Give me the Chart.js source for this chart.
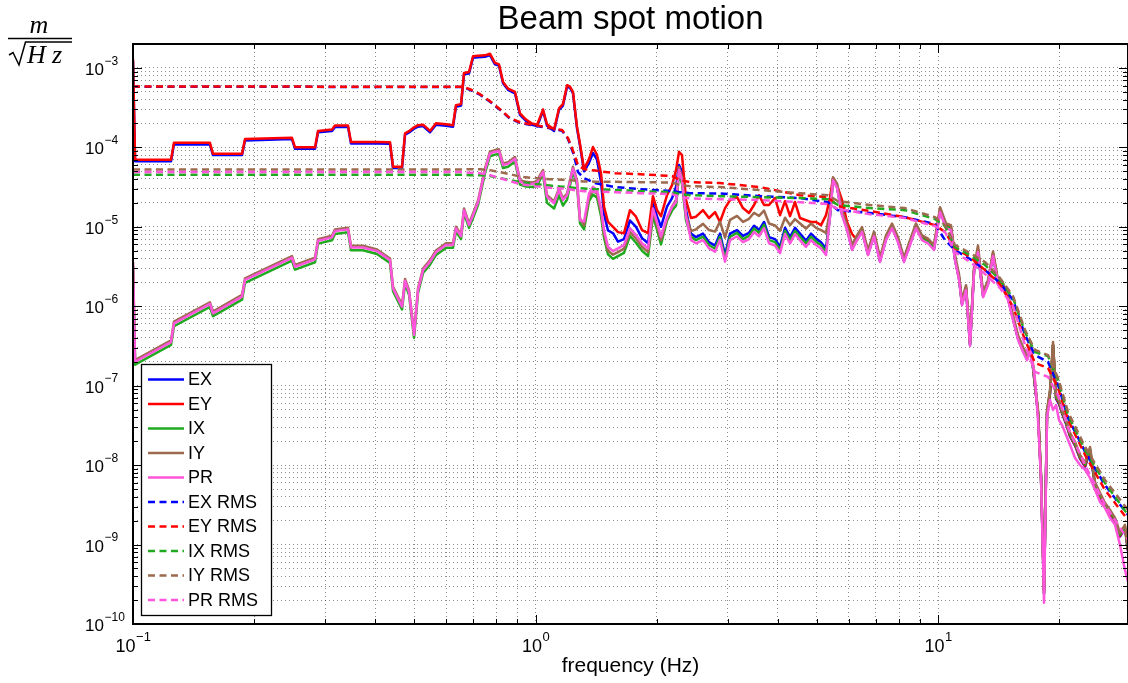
<!DOCTYPE html>
<html>
<head>
<meta charset="utf-8">
<script src="https://cdn.jsdelivr.net/npm/chart.js@4.4.0/dist/chart.umd.min.js"></script>
<style>
  html, body { margin: 0; padding: 0; background: #fff; }
  canvas { display: block; }
</style>
</head>
<body>
<canvas id="myChart" width="1128" height="683"></canvas>
<script>
// frequency bins (Hz) of the amplitude spectra
const freq = [
  0.1, 0.1012, 0.1243, 0.1264, 0.1553, 0.158, 0.1866, 0.1898, 0.2483, 0.2527,
  0.2833, 0.2882, 0.3122, 0.3176, 0.3421, 0.348, 0.3726, 0.4038, 0.435, 0.4426,
  0.466, 0.4741, 0.4851, 0.4992, 0.5107, 0.5255, 0.5469, 0.566, 0.5993, 0.6237,
  0.6345, 0.653, 0.6643, 0.6837, 0.6995, 0.7198, 0.7493, 0.7706, 0.793, 0.8114,
  0.8305, 0.8545, 0.8893, 0.9152, 0.9471, 0.9802, 1.009, 1.026, 1.044, 1.068,
  1.112, 1.144, 1.17, 1.198, 1.218, 1.239, 1.268, 1.29, 1.32, 1.358,
  1.389, 1.422, 1.455, 1.48, 1.514, 1.558, 1.603, 1.659, 1.717, 1.777,
  1.839, 1.904, 1.958, 2.004, 2.05, 2.122, 2.184, 2.235, 2.273, 2.312,
  2.366, 2.434, 2.505, 2.607, 2.698, 2.793, 2.873, 2.957, 3.043, 3.167,
  3.277, 3.392, 3.491, 3.592, 3.697, 3.804, 3.936, 4.051, 4.168, 4.289,
  4.413, 4.541, 4.699, 4.836, 4.977, 5.121, 5.27, 5.392, 5.485, 5.612,
  5.775, 5.942, 6.115, 6.292, 6.474, 6.701, 6.934, 7.176, 7.427, 7.687,
  7.954, 8.232, 8.52, 8.816, 9.125, 9.445, 9.774, 10.12, 10.47, 10.77,
  11.02, 11.28, 11.47, 11.74, 12.01, 12.29, 12.57, 12.94, 13.31, 13.7,
  14.1, 14.51, 14.93, 15.36, 15.81, 16.27, 16.64, 17.02, 17.42, 17.72,
  18.03, 18.34, 18.66, 18.98, 19.31, 19.65, 19.98, 20.33, 20.8, 21.28,
  21.9, 22.54, 23.2, 23.86, 24.55, 25.26, 25.99, 26.75, 27.53, 28.32,
  29.14, 29.65
];

// beam spot motion spectra, m/sqrt(Hz)
const EX = [
  1.23e-3, 6.7e-5, 6.7e-5, 1.09e-4, 1.09e-4, 8.0e-5, 8.0e-5, 1.22e-4, 1.27e-4, 9.6e-5,
  9.6e-5, 1.55e-4, 1.61e-4, 1.81e-4, 1.81e-4, 1.12e-4, 1.12e-4, 1.12e-4, 1.11e-4, 5.5e-5,
  5.5e-5, 1.44e-4, 1.54e-4, 1.72e-4, 1.82e-4, 1.85e-4, 1.55e-4, 1.93e-4, 1.87e-4, 1.82e-4,
  3.25e-4, 3.36e-4, 8.3e-4, 8.5e-4, 1.34e-3, 1.36e-3, 1.38e-3, 1.45e-3, 1.11e-3, 1.07e-3,
  6.4e-4, 5.3e-4, 4.78e-4, 2.56e-4, 2.15e-4, 1.92e-4, 1.85e-4, 2.28e-4, 2.88e-4, 1.87e-4,
  1.61e-4, 2.97e-4, 3.36e-4, 5.8e-4, 5.6e-4, 4.8e-4, 1.74e-4, 1.05e-4, 5.0e-5, 6.4e-5,
  8.5e-5, 7.0e-5, 3.6e-5, 1.45e-5, 9.0e-6, 8.3e-6, 6.5e-6, 7.0e-6, 1.2e-5, 1.0e-5,
  7.2e-6, 6.2e-6, 2.0e-5, 1.35e-5, 1.0e-5, 1.8e-5, 2.3e-5, 3.2e-5, 6.0e-5, 5.0e-5,
  1.6e-5, 8.2e-6, 7.4e-6, 8.2e-6, 6.4e-6, 5.8e-6, 8.2e-6, 4.4e-6, 8.2e-6, 9.1e-6,
  7.7e-6, 8.4e-6, 1.03e-5, 9.1e-6, 1.15e-5, 7.4e-6, 7.0e-6, 5.6e-6, 9.7e-6, 7.4e-6,
  9.7e-6, 8.2e-6, 6.7e-6, 8.2e-6, 7.1e-6, 6.4e-6, 5.3e-6, 1.38e-5, 3.98e-5, 3.16e-5,
  1.44e-5, 9.4e-6, 5.25e-6, 7.0e-6, 8.9e-6, 4.5e-6, 7.8e-6, 3.7e-6, 7.0e-6, 9.9e-6,
  6.6e-6, 3.7e-6, 6.1e-6, 9.9e-6, 7.0e-6, 6.4e-6, 5.25e-6, 1.58e-5, 9.9e-6, 9.4e-6,
  3.9e-6, 2.2e-6, 1.06e-6, 1.65e-6, 3.25e-7, 2.78e-6, 4.9e-6, 1.34e-6, 1.9e-6, 4.4e-6,
  1.9e-6, 1.74e-6, 1.24e-6, 6.9e-7, 3.87e-7, 2.73e-7, 2.16e-7, 2.9e-7, 9.7e-8, 4.5e-8,
  6.8e-9, 2.4e-10, 4.5e-8, 7.9e-8, 3.2e-7, 6.8e-8, 5.9e-8, 4.5e-8, 3.3e-8, 2.3e-8,
  1.76e-8, 1.2e-8, 9.6e-9, 1.52e-8, 5.5e-9, 4.0e-9, 3.0e-9, 2.46e-9, 1.95e-9, 1.26e-9,
  1.6e-9, 8.2e-10
];
const EY = [
  1.28e-3, 7.0e-5, 7.0e-5, 1.14e-4, 1.14e-4, 8.3e-5, 8.3e-5, 1.27e-4, 1.32e-4, 1.0e-4,
  1.0e-4, 1.61e-4, 1.68e-4, 1.89e-4, 1.89e-4, 1.17e-4, 1.17e-4, 1.17e-4, 1.16e-4, 5.7e-5,
  5.7e-5, 1.5e-4, 1.6e-4, 1.79e-4, 1.9e-4, 1.93e-4, 1.61e-4, 2.01e-4, 1.95e-4, 1.9e-4,
  3.39e-4, 3.5e-4, 8.65e-4, 8.9e-4, 1.4e-3, 1.42e-3, 1.44e-3, 1.51e-3, 1.16e-3, 1.11e-3,
  6.67e-4, 5.5e-4, 4.98e-4, 2.67e-4, 2.24e-4, 2.0e-4, 1.93e-4, 2.38e-4, 3.0e-4, 1.95e-4,
  1.68e-4, 3.09e-4, 3.5e-4, 6.06e-4, 5.8e-4, 5.0e-4, 1.81e-4, 1.1e-4, 5.32e-5, 7.1e-5,
  1.01e-4, 8.0e-5, 4.7e-5, 1.78e-5, 1.15e-5, 1.0e-5, 8.57e-6, 8.27e-6, 1.62e-5, 1.34e-5,
  9.1e-6, 8.3e-6, 2.43e-5, 1.62e-5, 1.36e-5, 2.5e-5, 3.35e-5, 5.2e-5, 8.8e-5, 8.0e-5,
  2.17e-5, 1.29e-5, 1.34e-5, 1.62e-5, 1.29e-5, 1.53e-5, 1.15e-5, 1.72e-5, 2.17e-5, 2.36e-5,
  1.72e-5, 1.49e-5, 1.88e-5, 2.5e-5, 1.88e-5, 1.88e-5, 2.3e-5, 1.4e-5, 2.1e-5, 1.36e-5,
  2.05e-5, 1.29e-5, 1.21e-5, 1.15e-5, 1.15e-5, 1.05e-5, 1.4e-5, 2.36e-5, 4.1e-5, 3.35e-5,
  2.17e-5, 1.15e-5, 8.1e-6, 6.8e-6, 9.3e-6, 4.75e-6, 8.2e-6, 3.9e-6, 7.3e-6, 1.04e-5,
  6.9e-6, 3.9e-6, 6.4e-6, 1.04e-5, 7.3e-6, 6.7e-6, 5.5e-6, 1.65e-5, 1.04e-5, 9.8e-6,
  4.1e-6, 2.3e-6, 1.11e-6, 1.73e-6, 3.4e-7, 2.9e-6, 5.2e-6, 1.4e-6, 2.0e-6, 4.6e-6,
  2.0e-6, 1.83e-6, 1.3e-6, 7.2e-7, 4.1e-7, 2.9e-7, 2.27e-7, 3.0e-7, 9.9e-8, 4.55e-8,
  6.9e-9, 2.5e-10, 4.55e-8, 8.1e-8, 3.27e-7, 7.0e-8, 6.1e-8, 4.55e-8, 3.4e-8, 2.34e-8,
  1.8e-8, 1.23e-8, 9.8e-9, 1.55e-8, 5.6e-9, 4.1e-9, 3.08e-9, 2.5e-9, 2.0e-9, 1.29e-9,
  1.63e-9, 8.4e-10
];
const IX = [
  3.2e-6, 1.84e-7, 3.26e-7, 5.6e-7, 9.8e-7, 7.5e-7, 1.21e-6, 1.97e-6, 3.74e-6, 2.89e-6,
  3.58e-6, 6.14e-6, 6.77e-6, 8.12e-6, 8.54e-6, 5.06e-6, 5.06e-6, 4.54e-6, 3.5e-6, 1.55e-6,
  9.1e-7, 1.93e-6, 1.39e-6, 4.0e-7, 1.47e-6, 2.62e-6, 3.34e-6, 4.42e-6, 5.43e-6, 5.43e-6,
  8.8e-6, 7.0e-6, 1.49e-5, 9.7e-6, 1.29e-5, 1.88e-5, 4.76e-5, 7.73e-5, 8.1e-5, 8.28e-5,
  5.49e-5, 5.7e-5, 6.62e-5, 3.39e-5, 3.22e-5, 3.17e-5, 3.27e-5, 3.92e-5, 4.53e-5, 2.0e-5,
  1.7e-5, 2.5e-5, 1.85e-5, 2.2e-5, 3.3e-5, 5.0e-5, 3.36e-5, 1.11e-5, 9.3e-6, 2.1e-5,
  2.55e-5, 2.32e-5, 1.36e-5, 7.3e-6, 4.5e-6, 3.95e-6, 4.27e-6, 4.7e-6, 7.7e-6, 6.3e-6,
  5.0e-6, 4.27e-6, 1.36e-5, 9.2e-6, 6.0e-6, 1.19e-5, 1.6e-5, 1.85e-5, 4.65e-5, 3.47e-5,
  1.2e-5, 7.5e-6, 6.8e-6, 7.5e-6, 5.9e-6, 5.3e-6, 7.5e-6, 4.0e-6, 7.5e-6, 8.4e-6,
  7.0e-6, 7.7e-6, 9.5e-6, 8.4e-6, 1.06e-5, 6.8e-6, 6.4e-6, 5.1e-6, 8.9e-6, 6.8e-6,
  8.9e-6, 7.5e-6, 6.2e-6, 7.5e-6, 6.5e-6, 5.9e-6, 4.8e-6, 1.41e-5, 4.05e-5, 3.22e-5,
  1.47e-5, 9.6e-6, 5.4e-6, 7.1e-6, 9.0e-6, 4.6e-6, 8.0e-6, 3.8e-6, 7.1e-6, 1.01e-5,
  6.7e-6, 3.8e-6, 6.2e-6, 1.01e-5, 7.1e-6, 6.5e-6, 5.4e-6, 1.61e-5, 1.01e-5, 9.6e-6,
  4.0e-6, 2.25e-6, 1.08e-6, 1.68e-6, 3.3e-7, 2.84e-6, 5.0e-6, 1.37e-6, 1.94e-6, 4.5e-6,
  1.94e-6, 1.77e-6, 1.26e-6, 7.0e-7, 3.95e-7, 2.78e-7, 2.2e-7, 2.95e-7, 1.03e-7, 4.7e-8,
  7.0e-9, 2.4e-10, 4.7e-8, 8.4e-8, 3.3e-7, 7.2e-8, 6.3e-8, 4.7e-8, 3.5e-8, 2.4e-8,
  1.86e-8, 1.27e-8, 1.02e-8, 1.6e-8, 5.8e-9, 4.25e-9, 3.2e-9, 2.6e-9, 2.06e-9, 1.33e-9,
  1.68e-9, 8.6e-10
];
const IY = [
  3.64e-6, 2.1e-7, 3.72e-7, 6.4e-7, 1.12e-6, 8.56e-7, 1.39e-6, 2.25e-6, 4.27e-6, 3.3e-6,
  4.08e-6, 7.0e-6, 7.73e-6, 9.27e-6, 9.74e-6, 5.78e-6, 5.78e-6, 5.19e-6, 4.0e-6, 1.76e-6,
  1.04e-6, 2.2e-6, 1.59e-6, 4.57e-7, 1.68e-6, 2.99e-6, 3.81e-6, 5.04e-6, 6.2e-6, 6.2e-6,
  1.0e-5, 7.98e-6, 1.7e-5, 1.1e-5, 1.47e-5, 2.14e-5, 5.43e-5, 8.82e-5, 9.24e-5, 9.45e-5,
  6.27e-5, 6.51e-5, 7.56e-5, 3.86e-5, 3.68e-5, 3.62e-5, 3.73e-5, 4.47e-5, 5.17e-5, 2.5e-5,
  2.08e-5, 3.05e-5, 2.28e-5, 2.63e-5, 3.86e-5, 5.7e-5, 3.83e-5, 1.27e-5, 1.04e-5, 2.37e-5,
  2.87e-5, 2.61e-5, 1.53e-5, 8.2e-6, 5.0e-6, 4.45e-6, 4.8e-6, 5.3e-6, 8.6e-6, 7.1e-6,
  5.6e-6, 4.8e-6, 1.53e-5, 1.04e-5, 6.8e-6, 1.25e-5, 1.8e-5, 2.2e-5, 5.6e-5, 4.2e-5,
  1.4e-5, 8.8e-6, 9.3e-6, 1.09e-5, 9.1e-6, 8.7e-6, 1.16e-5, 7.3e-6, 1.22e-5, 1.37e-5,
  1.15e-5, 1.26e-5, 1.5e-5, 1.37e-5, 1.6e-5, 1.1e-5, 1.04e-5, 8.9e-6, 1.3e-5, 1.05e-5,
  1.25e-5, 1.1e-5, 9.5e-6, 1.1e-5, 9.7e-6, 9.1e-6, 8.4e-6, 1.6e-5, 4.2e-5, 3.5e-5,
  1.61e-5, 1.05e-5, 5.9e-6, 7.8e-6, 9.9e-6, 5.1e-6, 8.7e-6, 4.1e-6, 7.8e-6, 1.1e-5,
  7.4e-6, 4.1e-6, 6.8e-6, 1.1e-5, 7.8e-6, 7.1e-6, 5.9e-6, 1.76e-5, 1.1e-5, 1.05e-5,
  4.4e-6, 2.5e-6, 1.2e-6, 1.84e-6, 3.7e-7, 3.1e-6, 5.8e-6, 1.5e-6, 2.13e-6, 4.9e-6,
  2.13e-6, 1.94e-6, 1.38e-6, 7.7e-7, 4.3e-7, 3.05e-7, 2.4e-7, 3.25e-7, 1.08e-7, 4.95e-8,
  7.5e-9, 2.7e-10, 4.95e-8, 8.8e-8, 3.55e-7, 7.6e-8, 6.6e-8, 4.95e-8, 3.7e-8, 2.54e-8,
  1.96e-8, 1.34e-8, 1.07e-8, 1.69e-8, 6.1e-9, 4.47e-9, 3.35e-9, 2.73e-9, 2.17e-9, 1.4e-9,
  1.77e-9, 9.1e-10
];
const PR = [
  3.47e-6, 2.0e-7, 3.54e-7, 6.1e-7, 1.07e-6, 8.15e-7, 1.32e-6, 2.14e-6, 4.07e-6, 3.14e-6,
  3.89e-6, 6.67e-6, 7.36e-6, 8.83e-6, 9.28e-6, 5.5e-6, 5.5e-6, 4.94e-6, 3.81e-6, 1.68e-6,
  9.86e-7, 2.1e-6, 1.51e-6, 4.35e-7, 1.6e-6, 2.85e-6, 3.63e-6, 4.8e-6, 5.9e-6, 5.9e-6,
  9.55e-6, 7.6e-6, 1.62e-5, 1.05e-5, 1.4e-5, 2.04e-5, 5.17e-5, 8.4e-5, 8.8e-5, 9.0e-5,
  5.97e-5, 6.2e-5, 7.2e-5, 3.68e-5, 3.5e-5, 3.45e-5, 3.55e-5, 4.26e-5, 4.92e-5, 2.38e-5,
  1.98e-5, 2.9e-5, 2.17e-5, 2.5e-5, 3.68e-5, 5.43e-5, 3.65e-5, 1.21e-5, 1.16e-5, 2.63e-5,
  3.19e-5, 2.9e-5, 1.7e-5, 9.1e-6, 5.6e-6, 4.94e-6, 5.34e-6, 5.9e-6, 9.6e-6, 7.86e-6,
  6.2e-6, 5.34e-6, 1.7e-5, 1.15e-5, 7.5e-6, 1.32e-5, 1.78e-5, 2.06e-5, 5.17e-5, 3.86e-5,
  1.34e-5, 6.8e-6, 6.2e-6, 6.8e-6, 5.35e-6, 4.85e-6, 6.8e-6, 3.63e-6, 6.8e-6, 7.6e-6,
  6.4e-6, 7.0e-6, 8.6e-6, 7.6e-6, 9.6e-6, 6.2e-6, 5.8e-6, 4.67e-6, 8.1e-6, 6.2e-6,
  8.1e-6, 6.8e-6, 5.6e-6, 6.8e-6, 5.9e-6, 5.35e-6, 4.4e-6, 1.34e-5, 3.86e-5, 3.07e-5,
  1.4e-5, 9.1e-6, 5.1e-6, 6.8e-6, 8.6e-6, 4.4e-6, 7.6e-6, 3.6e-6, 6.8e-6, 9.6e-6,
  6.4e-6, 3.6e-6, 5.9e-6, 9.6e-6, 6.8e-6, 6.2e-6, 5.1e-6, 1.53e-5, 9.6e-6, 9.1e-6,
  3.8e-6, 2.14e-6, 1.03e-6, 1.6e-6, 3.16e-7, 2.7e-6, 4.8e-6, 1.3e-6, 1.85e-6, 4.28e-6,
  1.85e-6, 1.69e-6, 1.2e-6, 6.7e-7, 3.76e-7, 2.65e-7, 2.1e-7, 2.81e-7, 1.18e-7, 3.7e-8,
  6.5e-9, 1.85e-10, 4.04e-8, 6.6e-8, 4.95e-8, 5.7e-8, 3.7e-8, 3.2e-8, 2.4e-8, 1.8e-8,
  1.23e-8, 1.0e-8, 8.7e-9, 6.9e-9, 4.9e-9, 3.45e-9, 2.9e-9, 2.17e-9, 1.77e-9, 9.9e-10,
  4.8e-10, 3.4e-10
];

// cumulative RMS, integrated from high frequency down
const rmsFreq = [
  0.1, 0.66, 0.6875, 0.728, 0.771, 0.816, 0.864, 0.915, 0.997, 1.086,
  1.164, 1.204, 1.246, 1.275, 1.32, 1.405, 1.576, 1.818, 2.184, 2.286,
  2.421, 2.873, 3.613, 4.541, 5.331, 5.644, 6.779, 8.279, 9.829, 10.41,
  11.02, 12.01, 13.09, 14.26, 15.36, 16.45, 17.42, 18.76, 19.87, 21.04,
  23.2, 25.99, 29.65
];
const EX_RMS = [
  5.8e-4, 5.75e-4, 5.3e-4, 4.6e-4, 3.75e-4, 2.97e-4, 2.3e-4, 2.04e-4, 1.87e-4, 1.74e-4,
  1.62e-4, 1.28e-4, 7.98e-5, 4.87e-5, 4.1e-5, 3.55e-5, 3.16e-5, 2.98e-5, 2.81e-5, 2.73e-5,
  2.65e-5, 2.62e-5, 2.43e-5, 2.3e-5, 2.04e-5, 1.62e-5, 1.49e-5, 1.32e-5, 1.08e-5, 6.8e-6,
  5.1e-6, 3.93e-6, 2.85e-6, 1.96e-6, 1.2e-6, 4.35e-7, 2.43e-7, 1.99e-7, 1.02e-7, 3.93e-8,
  1.47e-8, 5.6e-9, 2.36e-9
];
const EY_RMS = [
  5.83e-4, 5.8e-4, 5.39e-4, 4.67e-4, 3.81e-4, 3.02e-4, 2.33e-4, 2.07e-4, 1.9e-4, 1.77e-4,
  1.65e-4, 1.31e-4, 8.44e-5, 5.97e-5, 5.32e-5, 5.1e-5, 4.73e-5, 4.6e-5, 4.35e-5, 3.87e-5,
  3.65e-5, 3.55e-5, 3.16e-5, 2.5e-5, 2.36e-5, 1.82e-5, 1.58e-5, 1.32e-5, 1.05e-5, 8.6e-6,
  5.4e-6, 4.16e-6, 2.85e-6, 1.9e-6, 9.8e-7, 3.76e-7, 1.93e-7, 1.67e-7, 9.36e-8, 3.7e-8,
  1.34e-8, 4.87e-9, 2.04e-9
];
const IX_RMS = [
  4.51e-5, 4.51e-5, 4.47e-5, 4.47e-5, 4.35e-5, 4.1e-5, 3.87e-5, 3.65e-5, 3.45e-5, 3.3e-5,
  3.2e-5, 3.16e-5, 3.1e-5, 3.07e-5, 3.03e-5, 2.98e-5, 2.9e-5, 2.81e-5, 2.73e-5, 2.58e-5,
  2.5e-5, 2.43e-5, 2.36e-5, 2.3e-5, 2.23e-5, 1.88e-5, 1.72e-5, 1.62e-5, 1.25e-5, 1.02e-5,
  5.55e-6, 4.4e-6, 3.3e-6, 2.14e-6, 1.27e-6, 4.73e-7, 2.65e-7, 2.36e-7, 1.18e-7, 4.28e-8,
  1.55e-8, 5.97e-9, 2.36e-9
];
const IY_RMS = [
  5.27e-5, 5.27e-5, 5.3e-5, 5.3e-5, 5.17e-5, 4.87e-5, 4.6e-5, 4.28e-5, 4.1e-5, 3.98e-5,
  3.92e-5, 3.87e-5, 3.82e-5, 3.76e-5, 3.73e-5, 3.7e-5, 3.68e-5, 3.65e-5, 3.6e-5, 3.35e-5,
  3.25e-5, 3.16e-5, 2.9e-5, 2.65e-5, 2.5e-5, 2.1e-5, 1.88e-5, 1.72e-5, 1.32e-5, 1.05e-5,
  5.9e-6, 4.67e-6, 3.6e-6, 2.26e-6, 1.34e-6, 5.02e-7, 2.81e-7, 2.43e-7, 1.25e-7, 4.67e-8,
  1.69e-8, 6.5e-9, 2.73e-9
];
const PR_RMS = [
  4.88e-5, 4.88e-5, 4.8e-5, 4.73e-5, 4.47e-5, 4.1e-5, 3.76e-5, 3.45e-5, 3.25e-5, 3.1e-5,
  3.03e-5, 2.98e-5, 2.9e-5, 2.85e-5, 2.81e-5, 2.77e-5, 2.73e-5, 2.65e-5, 2.58e-5, 2.36e-5,
  2.28e-5, 2.23e-5, 2.17e-5, 2.04e-5, 1.93e-5, 1.67e-5, 1.44e-5, 1.29e-5, 1.02e-5, 8.6e-6,
  4.8e-6, 3.6e-6, 2.54e-6, 1.69e-6, 1.0e-6, 3.25e-7, 1.49e-7, 1.29e-7, 7.6e-8, 2.94e-8,
  1.0e-8, 3.16e-9, 1.15e-9
];

// decade exponents that get a 10^n label
const xDecades = [-1, 0, 1];
const yDecades = [-10, -9, -8, -7, -6, -5, -4, -3];

const X_MIN = 0.1, X_MAX = 29.65;
const Y_MIN = 1e-10, Y_MAX = 2e-3;

const FONT = '"Liberation Sans", Arial, Helvetica, sans-serif';
const colors = {
  EX: '#0000ff',
  EY: '#ff0000',
  IX: '#1faa1f',
  IY: '#9c6a4e',
  PR: '#ff55dd'
};

function points(f, v) {
  return f.map((x, i) => ({ x: x, y: v[i] }));
}

function trace(label, f, v, color, dashed, order) {
  return {
    label: label,
    data: points(f, v),
    borderColor: color,
    backgroundColor: color,
    borderWidth: 2.5,
    borderDash: dashed ? [7, 4.5] : [],
    borderJoinStyle: 'round',
    pointRadius: 0,
    tension: 0,
    fill: false,
    order: order
  };
}

// 1..9 x 10^n positions between lo and hi, used for grid and tick marks
function logPositions(lo, hi) {
  const out = [];
  for (let e = Math.floor(Math.log10(lo)); e <= Math.ceil(Math.log10(hi)); e++) {
    for (let m = 1; m < 10; m++) {
      const v = +(m * Math.pow(10, e)).toPrecision(6);
      if (v >= lo * 0.9999 && v <= hi * 1.0001) out.push(v);
    }
  }
  return out;
}

function isDecade(v) {
  const l = Math.log10(v);
  return Math.abs(l - Math.round(l)) < 1e-6;
}

// 10 with a raised exponent
function drawPower(ctx, exp, x, y, align, size) {
  const base = size + 'px ' + FONT;
  const sup = Math.round(size * 0.7) + 'px ' + FONT;
  const expText = exp < 0 ? '\u2212' + Math.abs(exp) : String(exp);
  ctx.font = base;
  const w1 = ctx.measureText('10').width;
  ctx.font = sup;
  const w2 = ctx.measureText(expText).width;
  let left;
  if (align === 'center') left = x - (w1 + w2) / 2;
  else left = x - w1;
  ctx.textAlign = 'left';
  ctx.textBaseline = 'alphabetic';
  ctx.font = base;
  ctx.fillText('10', left, y);
  ctx.font = sup;
  ctx.fillText(expText, left + w1 + 0.5, y - size * 0.6);
}

const axesDecor = {
  id: 'axesDecor',
  afterDraw(chart) {
    const ctx = chart.ctx;
    const a = chart.chartArea;
    const xs = chart.scales.x;
    const ys = chart.scales.y;
    ctx.save();

    // inward tick marks on all four sides
    ctx.strokeStyle = '#000';
    ctx.lineWidth = 1;
    ctx.setLineDash([]);
    ctx.beginPath();
    xs.ticks.forEach(t => {
      const px = Math.round(xs.getPixelForValue(t.value)) + 0.5;
      const len = isDecade(t.value) ? 9 : 5;
      ctx.moveTo(px, a.bottom); ctx.lineTo(px, a.bottom - len);
      ctx.moveTo(px, a.top); ctx.lineTo(px, a.top + len);
    });
    ys.ticks.forEach(t => {
      const py = Math.round(ys.getPixelForValue(t.value)) + 0.5;
      const len = isDecade(t.value) ? 9 : 5;
      ctx.moveTo(a.left, py); ctx.lineTo(a.left + len, py);
      ctx.moveTo(a.right, py); ctx.lineTo(a.right - len, py);
    });
    ctx.stroke();

    // axes box
    ctx.lineWidth = 2;
    ctx.strokeRect(a.left, a.top, a.right - a.left, a.bottom - a.top);

    // tick labels
    ctx.fillStyle = '#000';
    xDecades.forEach(e => {
      const px = xs.getPixelForValue(Math.pow(10, e));
      drawPower(ctx, e, px, 652, 'center', 18);
    });
    yDecades.forEach(e => {
      const py = ys.getPixelForValue(Math.pow(10, e));
      drawPower(ctx, e, 104, py + 7, 'right', 17);
    });

    // title and axis labels
    ctx.textBaseline = 'alphabetic';
    ctx.textAlign = 'center';
    ctx.font = '33px ' + FONT;
    ctx.fillText('Beam spot motion', (a.left + a.right) / 2, 29);
    ctx.font = '21px ' + FONT;
    ctx.fillText('frequency (Hz)', (a.left + a.right) / 2, 672);

    // unit m / sqrt(Hz)
    ctx.font = 'italic 26px "Liberation Serif", "Times New Roman", serif';
    ctx.fillText('m', 39, 33);
    ctx.textAlign = 'left';
    ctx.fillText('H', 27, 63);
    ctx.fillText('z', 52, 63);
    ctx.lineWidth = 1.5;
    ctx.beginPath();
    ctx.moveTo(8, 38.5); ctx.lineTo(72, 38.5);
    ctx.stroke();
    ctx.beginPath();
    ctx.moveTo(9, 55); ctx.lineTo(13, 52.5); ctx.lineTo(19, 65);
    ctx.lineTo(25.5, 42); ctx.lineTo(72, 42);
    ctx.stroke();

    // legend
    const box = { left: 141, top: 364, right: 271, bottom: 615 };
    ctx.fillStyle = '#fff';
    ctx.fillRect(box.left, box.top, box.right - box.left, box.bottom - box.top);
    ctx.strokeStyle = '#000';
    ctx.lineWidth = 1.3;
    ctx.strokeRect(box.left + 0.5, box.top + 0.5, box.right - box.left, box.bottom - box.top);
    ctx.font = '18px ' + FONT;
    ctx.textBaseline = 'middle';
    ctx.textAlign = 'left';
    chart.data.datasets.forEach((ds, i) => {
      const y = 379.5 + i * 24.5;
      ctx.strokeStyle = ds.borderColor;
      ctx.lineWidth = 2.5;
      ctx.setLineDash(ds.borderDash);
      ctx.beginPath();
      ctx.moveTo(148, y); ctx.lineTo(184, y);
      ctx.stroke();
      ctx.setLineDash([]);
      ctx.fillStyle = '#000';
      ctx.fillText(ds.label, 188, y + 1);
    });

    ctx.restore();
  }
};

const gridStyle = {
  color: 'rgba(0,0,0,0.45)',
  lineWidth: 1,
  drawTicks: false
};

const ctx = document.getElementById('myChart').getContext('2d');
new Chart(ctx, {
  type: 'line',
  data: {
    datasets: [
      trace('EX', freq, EX, colors.EX, false, 10),
      trace('EY', freq, EY, colors.EY, false, 9),
      trace('IX', freq, IX, colors.IX, false, 8),
      trace('IY', freq, IY, colors.IY, false, 7),
      trace('PR', freq, PR, colors.PR, false, 6),
      trace('EX RMS', rmsFreq, EX_RMS, colors.EX, true, 5),
      trace('EY RMS', rmsFreq, EY_RMS, colors.EY, true, 4),
      trace('IX RMS', rmsFreq, IX_RMS, colors.IX, true, 3),
      trace('IY RMS', rmsFreq, IY_RMS, colors.IY, true, 2),
      trace('PR RMS', rmsFreq, PR_RMS, colors.PR, true, 1)
    ]
  },
  options: {
    responsive: false,
    animation: false,
    devicePixelRatio: 1,
    layout: { padding: { left: 133, right: 0, top: 44, bottom: 59 } },
    plugins: {
      legend: { display: false },
      title: { display: false },
      tooltip: { enabled: false }
    },
    scales: {
      x: {
        type: 'logarithmic',
        min: X_MIN,
        max: X_MAX,
        afterBuildTicks: scale => {
          scale.ticks = logPositions(X_MIN, X_MAX).map(v => ({ value: v }));
        },
        ticks: { display: false },
        grid: gridStyle,
        border: { display: false, dash: [1, 3] }
      },
      y: {
        type: 'logarithmic',
        min: Y_MIN,
        max: Y_MAX,
        afterBuildTicks: scale => {
          scale.ticks = logPositions(Y_MIN, Y_MAX).map(v => ({ value: v }));
        },
        ticks: { display: false },
        grid: gridStyle,
        border: { display: false, dash: [1, 3] }
      }
    }
  },
  plugins: [axesDecor]
});
</script>
</body>
</html>
